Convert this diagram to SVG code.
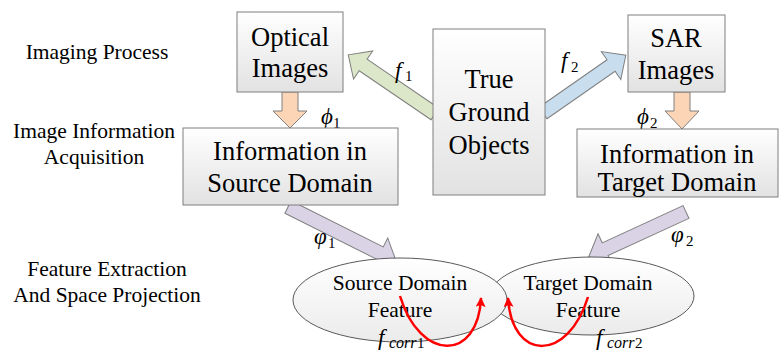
<svg xmlns="http://www.w3.org/2000/svg" width="781" height="354" viewBox="0 0 781 354">
<defs>
<linearGradient id="boxg" x1="0" y1="0" x2="0" y2="1"><stop offset="0" stop-color="#ffffff"/><stop offset="1" stop-color="#e2e2e2"/></linearGradient>
<linearGradient id="ellg" x1="0" y1="0" x2="0" y2="1"><stop offset="0" stop-color="#ffffff"/><stop offset="1" stop-color="#ebebeb"/></linearGradient>
<marker id="redhead" markerWidth="10" markerHeight="10" refX="9" refY="5" orient="auto" markerUnits="userSpaceOnUse"><path d="M0,0 L10,5 L0,10 L2,5 z" fill="#ff0000"/></marker>
<style>
text{font-family:'Liberation Serif','DejaVu Serif','Times New Roman',serif;fill:#000}
.box{fill:url(#boxg);stroke:#7f7f7f;stroke-width:1}
.ell{fill:url(#ellg);stroke:#595959;stroke-width:1}
.t{text-anchor:middle}
.big{font-size:26.5px}
.mid{font-size:21.5px}
.m{font-style:italic}
.sub{font-size:15px}
.barr{stroke:#7f7f7f;stroke-width:1}
.red{fill:none;stroke:#ff0000;stroke-width:2.5;marker-end:url(#redhead)}
</style>
</defs>
<rect width="781" height="354" fill="#ffffff"/>
<g id="stage-labels">
<text class="t mid" x="97" y="59">Imaging Process</text>
<text class="t mid" x="94" y="138">Image Information</text>
<text class="t mid" x="94" y="164">Acquisition</text>
<text class="t mid" x="107" y="276">Feature Extraction</text>
<text class="t mid" x="107" y="302">And Space Projection</text>
</g>
<g id="connectors">
<polygon class="barr" fill="#dce6c8" transform="translate(435,114) rotate(214.3)" points="0,-7 87,-7 87,-17 105,0 87,17 87,7 0,7"/>
<polygon class="barr" fill="#c8deef" transform="translate(543,113) rotate(-34.9)" points="0,-7 83,-7 83,-17 101,0 83,17 83,7 0,7"/>
<polygon class="barr" fill="#fbd5b5" points="282,92 298,92 298,111 307,111 290,128 273,111 282,111"/>
<polygon class="barr" fill="#fbd5b5" points="674,92 690,92 690,111 699,111 682,129 665,111 674,111"/>
<polygon class="barr" fill="#dad3e6" transform="translate(288,207) rotate(26.6)" points="0,-7 103,-7 103,-17 121,0 103,17 103,7 0,7"/>
<polygon class="barr" fill="#dad3e6" transform="translate(686,212) rotate(155.3)" points="0,-7 89,-7 89,-17 107,0 89,17 89,7 0,7"/>
<text class="m" font-size="23" x="395" y="78">f</text><text class="sub" x="405" y="81">1</text>
<text class="m" font-size="23" x="561" y="68">f</text><text class="sub" x="571" y="72">2</text>
<text class="m" font-size="23" x="321" y="124">ϕ</text><text class="sub" x="333" y="128">1</text>
<text class="m" font-size="23" x="637" y="124">ϕ</text><text class="sub" x="650" y="128">2</text>
<text class="m" font-size="23" x="314" y="244">φ</text><text class="sub" x="328" y="248">1</text>
<text class="m" font-size="23" x="671" y="242">φ</text><text class="sub" x="686" y="246">2</text>
</g>
<g id="optical"><rect class="box" x="237" y="12" width="106" height="80"/><text class="t big" x="290" y="46">Optical</text><text class="t big" x="290" y="77">Images</text></g>
<g id="true-ground"><rect class="box" x="433" y="29" width="112" height="166"/><text class="t big" x="489" y="88">True</text><text class="t big" x="489" y="121">Ground</text><text class="t big" x="489" y="154">Objects</text></g>
<g id="sar"><rect class="box" x="628" y="15" width="97" height="77"/><text class="t big" x="676" y="47">SAR</text><text class="t big" x="676" y="79">Images</text></g>
<g id="info-source"><rect class="box" x="183" y="128" width="215" height="77"/><text class="t big" x="290" y="160">Information in</text><text class="t big" x="290" y="192">Source Domain</text></g>
<g id="info-target"><rect class="box" x="577" y="129" width="201" height="68"/><text class="t big" x="677" y="163">Information in</text><text class="t big" x="677" y="191">Target Domain</text></g>
<g id="target-feature"><ellipse class="ell" cx="592" cy="296" rx="102" ry="39"/><text class="t mid" x="588" y="290">Target Domain</text><text class="t mid" x="588" y="317">Feature</text></g>
<g id="source-feature"><ellipse class="ell" cx="400" cy="300" rx="107" ry="42"/><text class="t mid" x="400" y="290">Source Domain</text><text class="t mid" x="400" y="317">Feature</text></g>
<g id="corr-loops">
<path class="red" d="M400,296 C420,362 478,362 481,298"/>
<path class="red" d="M588,297 C568,362 512,362 508,298"/>
<text class="m" font-size="23" x="378" y="345">f</text><text class="m" font-size="16" x="389" y="348">corr</text><text class="sub" x="417" y="348" font-size="16">1</text>
<text class="m" font-size="23" x="596" y="345">f</text><text class="m" font-size="16" x="607" y="348">corr</text><text class="sub" x="635" y="348" font-size="16">2</text>
</g>
</svg>
